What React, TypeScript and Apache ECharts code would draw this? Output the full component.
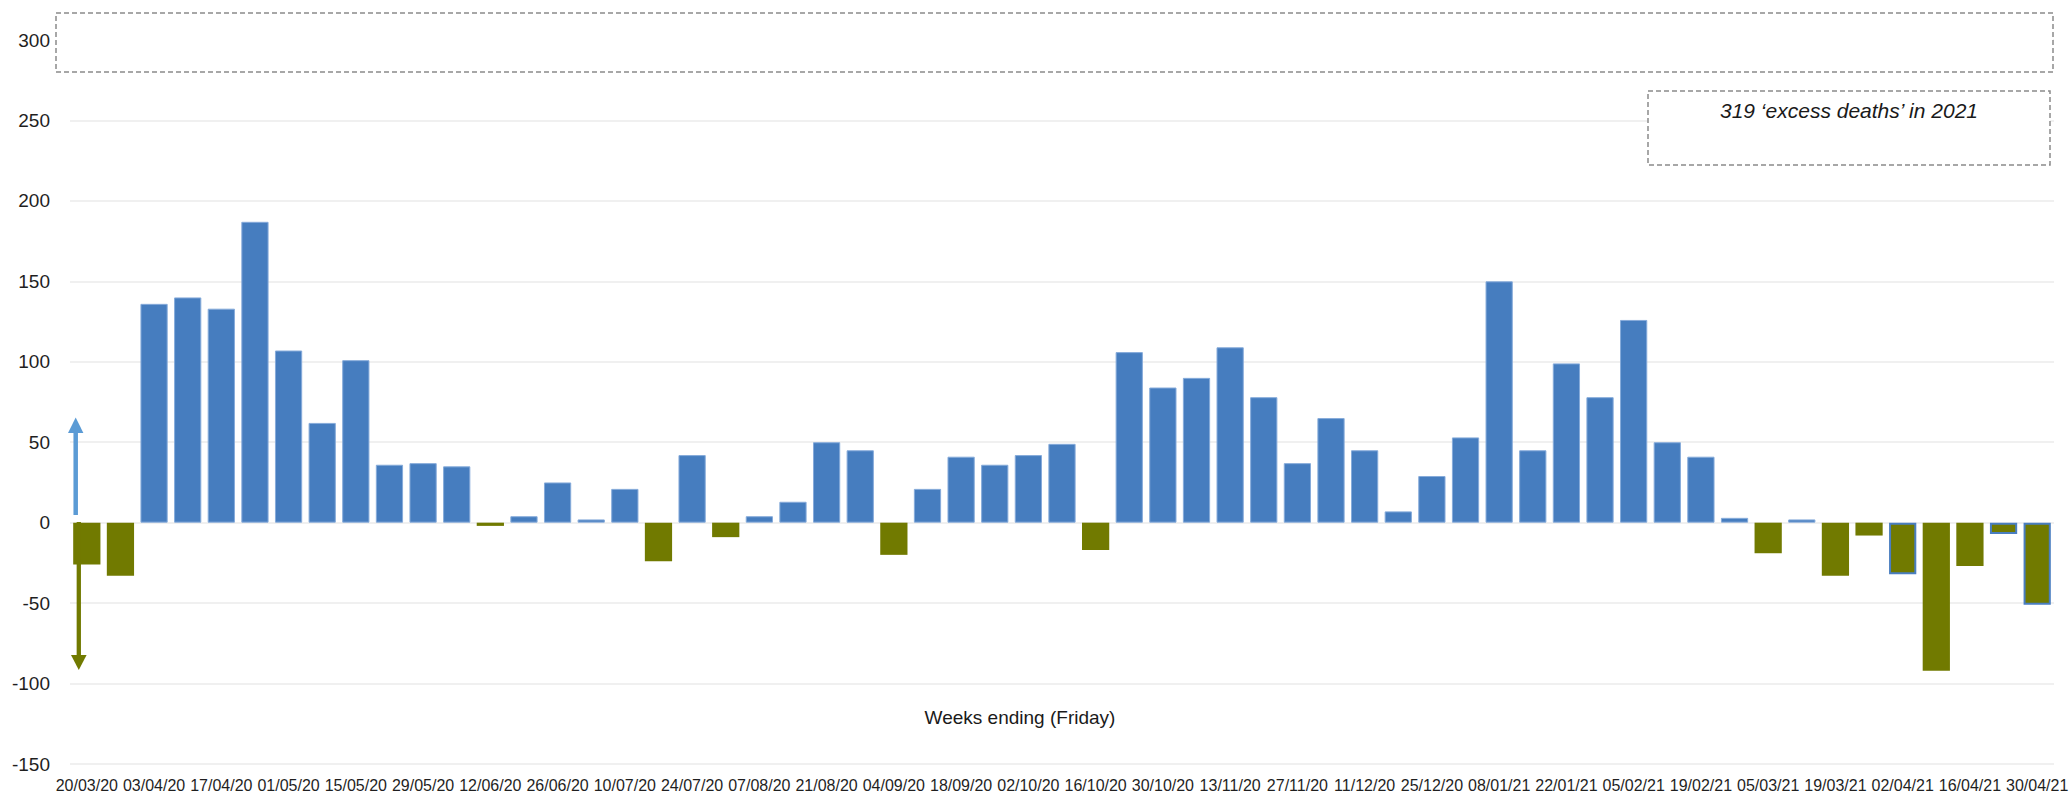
import React, { useEffect, useRef } from "react";
import * as echarts from "echarts";

// Week-ending dates (Fridays)
const weeks: string[] = [
  "20/03/20", "27/03/20", "03/04/20", "10/04/20", "17/04/20", "24/04/20",
  "01/05/20", "08/05/20", "15/05/20", "22/05/20", "29/05/20", "05/06/20",
  "12/06/20", "19/06/20", "26/06/20", "03/07/20", "10/07/20", "17/07/20",
  "24/07/20", "31/07/20", "07/08/20", "14/08/20", "21/08/20", "28/08/20",
  "04/09/20", "11/09/20", "18/09/20", "25/09/20", "02/10/20", "09/10/20",
  "16/10/20", "23/10/20", "30/10/20", "06/11/20", "13/11/20", "20/11/20",
  "27/11/20", "04/12/20", "11/12/20", "18/12/20", "25/12/20", "01/01/21",
  "08/01/21", "15/01/21", "22/01/21", "29/01/21", "05/02/21", "12/02/21",
  "19/02/21", "26/02/21", "05/03/21", "12/03/21", "19/03/21", "26/03/21",
  "02/04/21", "09/04/21", "16/04/21", "23/04/21", "30/04/21",
];

// Weekly 'excess deaths'
const excessDeaths: number[] = [
  -26, -33, 136, 140, 133, 187, 107, 62, 101, 36,
  37, 35, -2, 4, 25, 2, 21, -24, 42, -9,
  4, 13, 50, 45, -20, 21, 41, 36, 42, 49,
  -17, 106, 84, 90, 109, 78, 37, 65, 45, 7,
  29, 53, 150, 45, 99, 78, 126, 50, 41, 3,
  -19, 2, -33, -8, -32, -92, -27, -7, -51,
];

// Negative weeks drawn with a blue outline in the original
const blueOutlinedWeeks: string[] = ["02/04/21", "23/04/21", "30/04/21"];

const yTicks = { min: -150, max: 300, interval: 50 };

const annotationText = "319 \u2018excess deaths\u2019 in 2021";
const xAxisTitle = "Weeks ending (Friday)";

const BLUE = "#467DBF";
const BLUE_EDGE = "#86ABDA";
const OLIVE = "#717A00";
const ARROW_BLUE = "#5B9BD5";

export default function App() {
  const ref = useRef<HTMLDivElement>(null);

  useEffect(() => {
    if (!ref.current) return;
    const chart = echarts.init(ref.current, undefined, { renderer: "svg" });

    const items = excessDeaths.map((v, i) => {
      const outlined = blueOutlinedWeeks.includes(weeks[i]);
      if (v >= 0) {
        return {
          value: v,
          itemStyle: { color: BLUE, borderColor: BLUE_EDGE, borderWidth: 1 },
        };
      }
      return {
        value: v,
        itemStyle: outlined
          ? { color: OLIVE, borderColor: "#4A7EC0", borderWidth: 2 }
          : { color: OLIVE, borderWidth: 0 },
      };
    });

    const sans = "'Liberation Sans', Arial, sans-serif";

    chart.setOption({
      animation: false,
      backgroundColor: "#ffffff",
      grid: { left: 70, right: 18, top: 40, bottom: 30, containLabel: false },
      xAxis: {
        type: "category",
        data: weeks,
        axisLine: { show: false },
        axisTick: { show: false },
        splitLine: { show: false },
        axisLabel: {
          interval: 1,
          showMinLabel: true,
          showMaxLabel: true,
          hideOverlap: false,
          margin: 13,
          fontSize: 16,
          fontFamily: sans,
          color: "#1f1f1f",
        },
      },
      yAxis: {
        type: "value",
        min: yTicks.min,
        max: yTicks.max,
        interval: yTicks.interval,
        axisLine: { show: false },
        axisTick: { show: false },
        axisLabel: {
          margin: 20,
          fontSize: 19,
          fontFamily: sans,
          color: "#1f1f1f",
        },
        splitLine: { lineStyle: { color: "#EBEBEB", width: 1.5 } },
      },
      series: [
        {
          type: "bar",
          data: items,
          barCategoryGap: "19%",
        },
      ],
      graphic: [
        {
          type: "rect",
          z: 100,
          shape: { x: 56, y: 13, width: 1997, height: 59 },
          style: { fill: "#ffffff", stroke: "#8A8A8A", lineWidth: 1.5, lineDash: [5, 3] },
        },
        {
          type: "rect",
          z: 100,
          shape: { x: 1648, y: 91, width: 402, height: 74 },
          style: { fill: "#ffffff", stroke: "#8A8A8A", lineWidth: 1.5, lineDash: [5, 3] },
        },
        {
          type: "text",
          z: 101,
          x: 1849,
          y: 110,
          style: {
            text: annotationText,
            fontSize: 21,
            fontStyle: "italic",
            fontFamily: sans,
            fill: "#1a1a1a",
            align: "center",
            verticalAlign: "middle",
          },
        },
        {
          type: "text",
          z: 101,
          x: 1020,
          y: 717,
          style: {
            text: xAxisTitle,
            fontSize: 19,
            fontFamily: sans,
            fill: "#1a1a1a",
            align: "center",
            verticalAlign: "middle",
          },
        },
        // up arrow (blue)
        {
          type: "line",
          z: 100,
          shape: { x1: 75.7, y1: 515, x2: 75.7, y2: 431 },
          style: { stroke: ARROW_BLUE, lineWidth: 4.5 },
        },
        {
          type: "polygon",
          z: 100,
          shape: { points: [[68, 433], [83.4, 433], [75.7, 417.5]] },
          style: { fill: ARROW_BLUE },
        },
        // down arrow (olive)
        {
          type: "line",
          z: 100,
          shape: { x1: 78.8, y1: 522, x2: 78.8, y2: 657 },
          style: { stroke: OLIVE, lineWidth: 4.3 },
        },
        {
          type: "polygon",
          z: 100,
          shape: { points: [[71, 655], [86.6, 655], [78.8, 670]] },
          style: { fill: OLIVE },
        },
      ],
    });

    return () => chart.dispose();
  }, []);

  return (
    <div
      ref={ref}
      style={{ position: "absolute", left: 0, top: 0, width: 2072, height: 794 }}
    />
  );
}
